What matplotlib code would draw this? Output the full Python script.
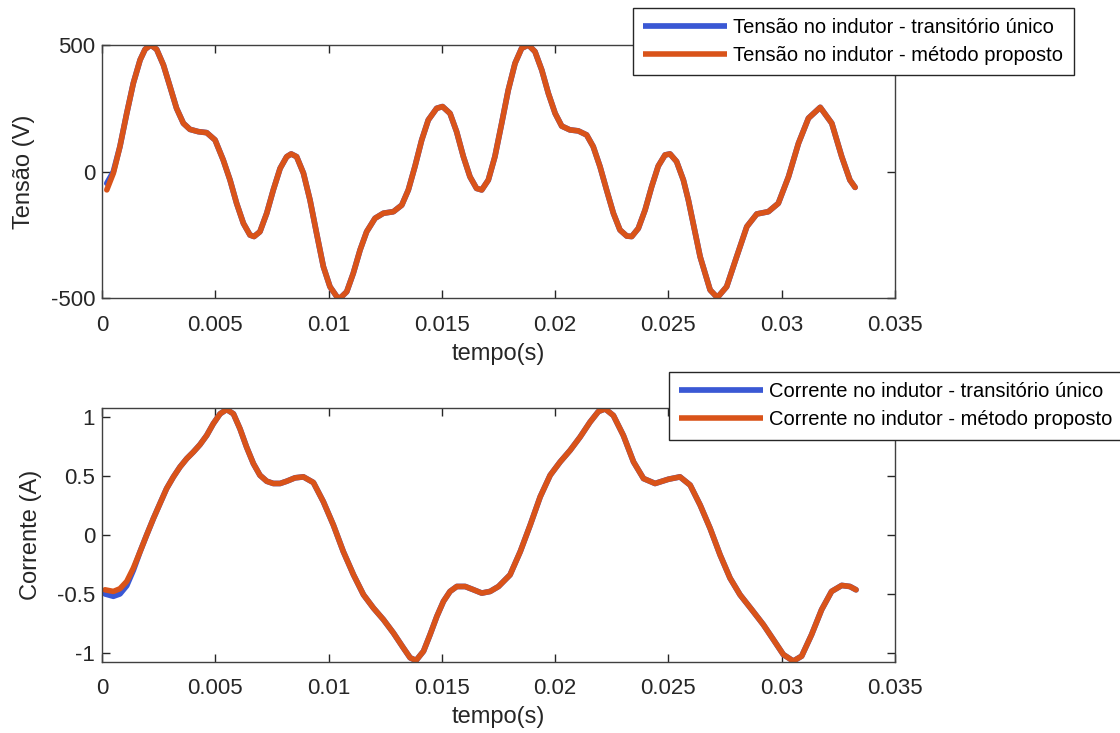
import matplotlib
matplotlib.use('Agg')
import matplotlib.pyplot as plt

# tensao no indutor
t_v = [0.00021, 0.0005, 0.00079, 0.00109, 0.00138, 0.00168, 0.0019, 0.00215, 0.00241, 0.00271,
       0.003, 0.00329, 0.00359, 0.00388, 0.00425, 0.00462, 0.00499, 0.00535, 0.00565, 0.00594,
       0.00624, 0.00653, 0.00671, 0.00697, 0.00727, 0.00756, 0.00786, 0.00815, 0.00835, 0.00859,
       0.00889, 0.00918, 0.00947, 0.00977, 0.01006, 0.01036, 0.0105, 0.0108, 0.01109, 0.01139,
       0.01168, 0.01205, 0.01242, 0.01286, 0.01323, 0.01352, 0.01381, 0.01411, 0.0144, 0.01477,
       0.01503, 0.01536, 0.01565, 0.01595, 0.01624, 0.01653, 0.01676, 0.01705, 0.01734, 0.01764,
       0.01793, 0.01823, 0.01852, 0.01882, 0.01911, 0.01941, 0.0197, 0.02, 0.02029, 0.02065,
       0.02102, 0.02139, 0.02168, 0.02198, 0.02227, 0.02257, 0.02286, 0.02316, 0.02338, 0.02367,
       0.02397, 0.02426, 0.02455, 0.02485, 0.02507, 0.02536, 0.02566, 0.02588, 0.0264, 0.02684,
       0.02716, 0.02757, 0.02801, 0.02846, 0.0289, 0.02941, 0.02985, 0.0303, 0.03074, 0.03118,
       0.0317, 0.03221, 0.03265, 0.03301, 0.03324]
v_proposto = [-72, -6, 99, 230, 349, 441, 483, 500, 483, 421,
              336, 250, 191, 167, 158, 154, 125, 46, -33, -125,
              -204, -250, -256, -237, -164, -72, 13, 59, 70, 59,
              -6, -112, -243, -375, -454, -493, -500, -474, -401, -309,
              -237, -184, -164, -158, -132, -72, 20, 125, 204, 250,
              257, 230, 158, 59, -20, -66, -72, -33, 59, 191,
              322, 428, 487, 500, 474, 401, 309, 230, 180, 165,
              161, 145, 99, 20, -72, -164, -230, -254, -256, -224,
              -151, -59, 22, 66, 70, 40, -33, -112, -336, -467,
              -497, -454, -336, -217, -167, -158, -125, -20, 112, 211,
              254, 191, 59, -33, -62]
v_unico = [-46, 0] + v_proposto[2:]

# corrente no indutor
t_i = [0.00013, 0.0005, 0.00079, 0.00109, 0.00138, 0.00168, 0.00197, 0.00227, 0.00256, 0.00285,
       0.00315, 0.00344, 0.00374, 0.00403, 0.00432, 0.00462, 0.00491, 0.00521, 0.0055, 0.0058,
       0.00609, 0.00638, 0.00668, 0.00697, 0.00727, 0.00756, 0.00786, 0.00815, 0.00852, 0.00889,
       0.00933, 0.00977, 0.01021, 0.01065, 0.0111, 0.01154, 0.01198, 0.01242, 0.01286, 0.0133,
       0.0136, 0.01386, 0.01419, 0.01448, 0.01478, 0.01507, 0.01536, 0.01566, 0.01603, 0.0164,
       0.01676, 0.01713, 0.0175, 0.01801, 0.01846, 0.0189, 0.01934, 0.01978, 0.02022, 0.02066,
       0.0211, 0.02154, 0.02191, 0.02221, 0.02257, 0.02301, 0.02346, 0.0239, 0.02441, 0.025,
       0.02551, 0.02596, 0.0264, 0.02684, 0.02728, 0.02772, 0.02816, 0.02868, 0.02919, 0.02963,
       0.03007, 0.03051, 0.03088, 0.03132, 0.03176, 0.0322, 0.03265, 0.03301, 0.03328]
i_proposto = [-0.465, -0.479, -0.456, -0.394, -0.282, -0.141, 0.0, 0.141, 0.268, 0.394,
              0.493, 0.577, 0.648, 0.704, 0.766, 0.845, 0.944, 1.028, 1.065, 1.028,
              0.901, 0.746, 0.606, 0.507, 0.456, 0.437, 0.437, 0.456, 0.485, 0.493,
              0.445, 0.282, 0.085, -0.141, -0.338, -0.507, -0.620, -0.718, -0.831, -0.958,
              -1.042, -1.065, -0.986, -0.845, -0.690, -0.563, -0.479, -0.437, -0.437, -0.465,
              -0.493, -0.479, -0.437, -0.338, -0.141, 0.085, 0.324, 0.507, 0.620, 0.718,
              0.831, 0.958, 1.048, 1.07, 1.014, 0.845, 0.620, 0.479, 0.437, 0.473,
              0.493, 0.423, 0.254, 0.056, -0.169, -0.366, -0.507, -0.634, -0.761, -0.887,
              -1.014, -1.07, -1.028, -0.845, -0.634, -0.479, -0.428, -0.437, -0.465]
i_unico = [-0.50, -0.52, -0.50, -0.43, -0.30] + i_proposto[5:]

xticks = [0, 0.005, 0.01, 0.015, 0.02, 0.025, 0.03, 0.035]
xlabels = ['0', '0.005', '0.01', '0.015', '0.02', '0.025', '0.03', '0.035']

plt.rcParams['font.family'] = ['Liberation Sans', 'DejaVu Sans']
plt.rcParams['axes.unicode_minus'] = False
plt.rcParams['lines.solid_joinstyle'] = 'round'
plt.rcParams['lines.solid_capstyle'] = 'round'

azul = '#3a58d4'
laranja = '#d95319'
cinza = '#404040'
texto = '#262626'

fig = plt.figure(figsize=(11.2, 7.33), dpi=100)
ax1 = fig.add_axes([0.0911, 0.593, 0.708, 0.3456])
ax2 = fig.add_axes([0.0911, 0.0973, 0.708, 0.3465])


def estilo(ax, ylab):
    ax.set_xlim(0, 0.035)
    ax.set_xticks(xticks)
    ax.set_xticklabels(xlabels)
    ax.tick_params(direction='in', top=True, right=True, labelsize=16,
                   colors=texto, length=6, width=1)
    ax.tick_params(axis='x', pad=12)
    ax.tick_params(axis='y', pad=5)
    for s in ax.spines.values():
        s.set_color(cinza)
        s.set_linewidth(1)
    ax.set_xlabel('tempo(s)', fontsize=17, color=texto, labelpad=5)
    ax.set_ylabel(ylab, fontsize=17, color=texto, labelpad=11)


def legenda(ax, x, y):
    leg = ax.legend(loc='upper left', bbox_to_anchor=(x, y), bbox_transform=fig.transFigure,
                    fontsize=14.5, fancybox=False, framealpha=1, edgecolor=texto,
                    handlelength=4.2, borderpad=0.5, labelspacing=0.45, handletextpad=0.3,
                    borderaxespad=0)
    for ln in leg.get_lines():
        ln.set_solid_capstyle('butt')


ax1.plot(t_v, v_unico, color=azul, lw=4.1, label='Tensão no indutor - transitório único')
ax1.plot(t_v, v_proposto, color=laranja, lw=4.0, label='Tensão no indutor - método proposto')
ax1.set_ylim(-500, 500)
ax1.set_yticks([-500, 0, 500])
estilo(ax1, 'Tensão (V)')
legenda(ax1, 0.565, 0.989)

ax2.plot(t_i, i_unico, color=azul, lw=4.1, label='Corrente no indutor - transitório único')
ax2.plot(t_i, i_proposto, color=laranja, lw=4.0, label='Corrente no indutor - método proposto')
ax2.set_ylim(-1.075, 1.08)
ax2.set_yticks([-1, -0.5, 0, 0.5, 1])
ax2.set_yticklabels(['-1', '-0.5', '0', '0.5', '1'])
estilo(ax2, 'Corrente (A)')
legenda(ax2, 0.597, 0.492)

fig.savefig('out.png', dpi=100)
